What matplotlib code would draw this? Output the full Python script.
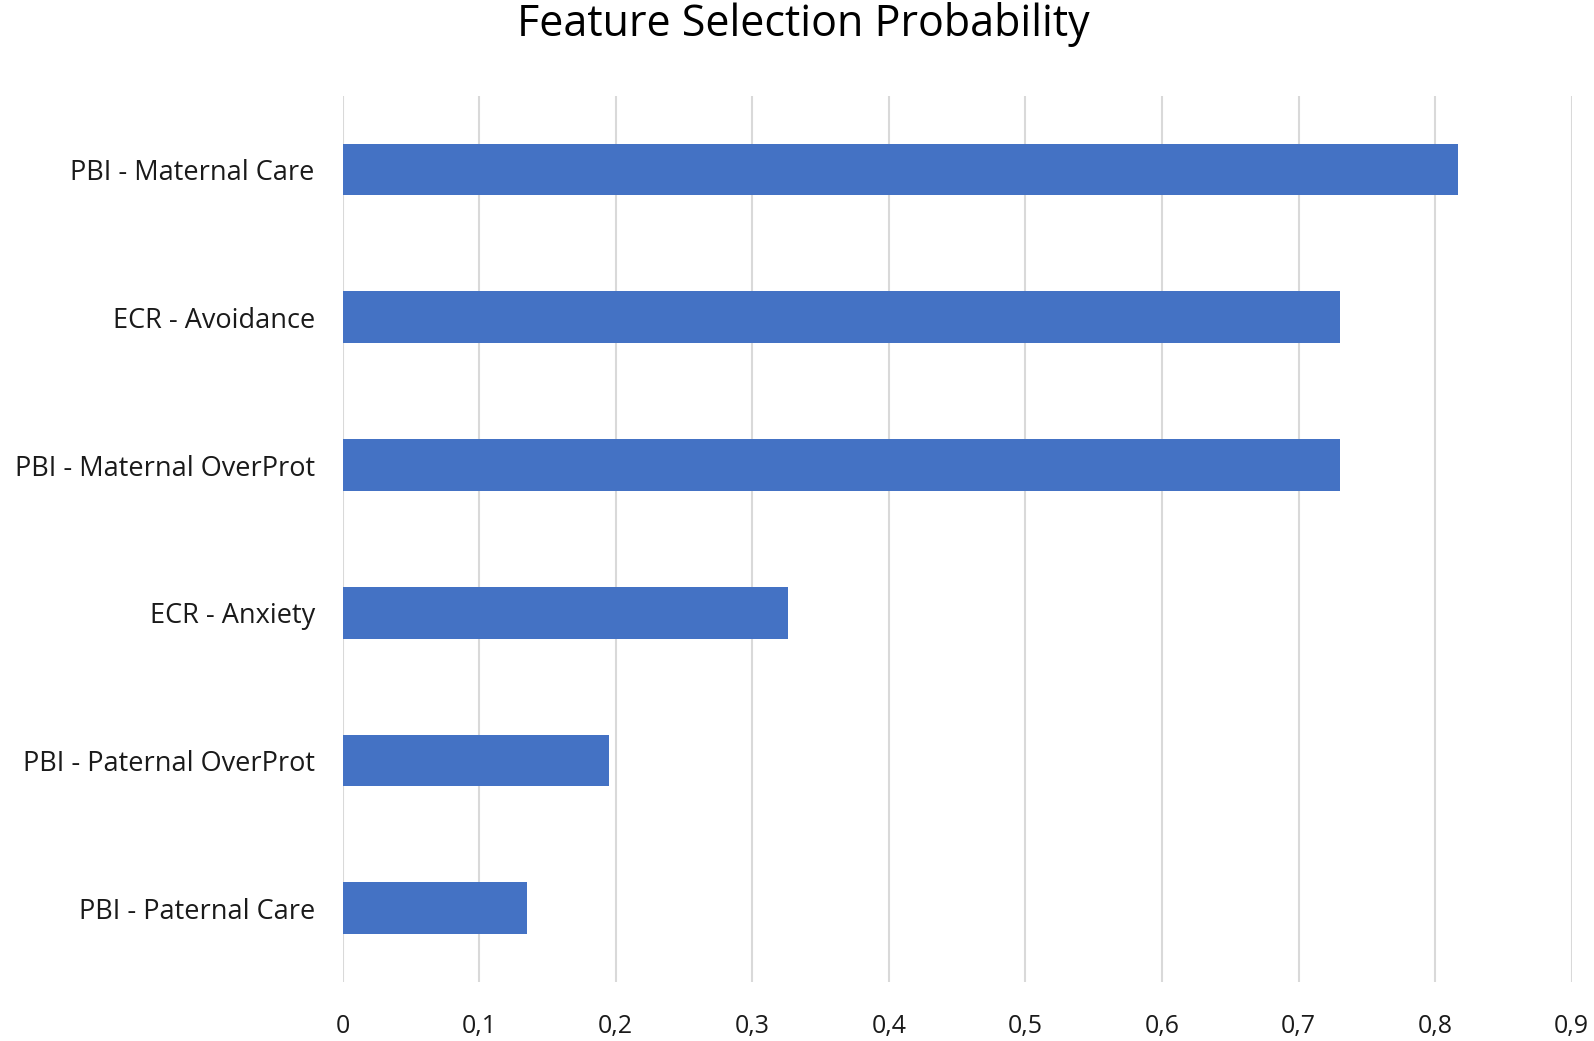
import matplotlib
matplotlib.use("Agg")
import matplotlib.pyplot as plt

# 特徴量と選択確率
features = ['PBI - Maternal Care', 'ECR - Avoidance', 'PBI - Maternal OverProt',
            'ECR - Anxiety', 'PBI - Paternal OverProt', 'PBI - Paternal Care']
probability = [0.817, 0.730, 0.730, 0.326, 0.195, 0.135]
xticks = [0, 0.1, 0.2, 0.3, 0.4, 0.5, 0.6, 0.7, 0.8, 0.9]
xtick_labels = ['0', '0,1', '0,2', '0,3', '0,4', '0,5', '0,6', '0,7', '0,8', '0,9']

plt.rcParams['font.family'] = ['Open Sans', 'DejaVu Sans']

fig = plt.figure(figsize=(15.94, 10.41), dpi=100)
ax = fig.add_axes([0.2149, 0.0567, 0.7711, 0.8513])

ax.barh(features, probability, height=0.35, color='#4472C4', zorder=3)
ax.set_xlim(0, 0.9)
ax.set_ylim(-0.5, len(features) - 0.5)
ax.invert_yaxis()

ax.set_xticks(xticks)
ax.set_xticklabels(xtick_labels)
ax.grid(axis='x', color='#D9D9D9', linewidth=1.5, zorder=0)
ax.grid(axis='y', visible=False)
for s in ax.spines.values():
    s.set_visible(False)
ax.tick_params(axis='x', length=0, pad=23, labelsize=18, colors='#1a1a1a')
ax.tick_params(axis='y', length=0, pad=20, labelsize=19.5, colors='#1a1a1a')

fig.text(0.504, 0.976, 'Feature Selection Probability', ha='center', va='center',
         fontsize=31, color='#000000')

fig.savefig('out.png', dpi=100)
